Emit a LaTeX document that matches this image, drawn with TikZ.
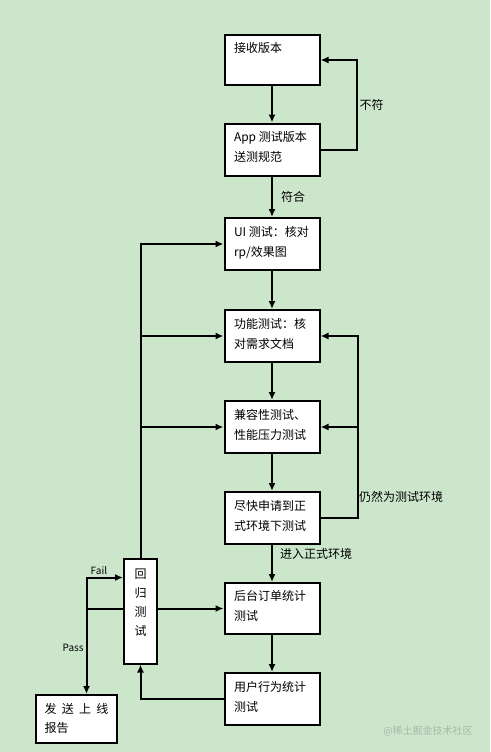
\documentclass[tikz,border=0pt]{standalone}
\usepackage{fontspec}
\setmainfont{Noto Sans CJK SC}
\usetikzlibrary{arrows.meta,positioning}
\definecolor{eyegreen}{RGB}{204,230,204}
\definecolor{markgray}{RGB}{168,184,168}
\tikzstyle{stepbox} = [draw, line width=2pt, fill=white, inner sep=0pt, minimum width=95pt, minimum height=52pt, font=\fontsize{12}{20}\selectfont]
\tikzstyle{arrow} = [line width=2pt, -{Latex[length=8pt,width=7pt]}]
\tikzstyle{lbl} = [font=\fontsize{12}{14}\selectfont, inner sep=2pt]
\tikzstyle{small} = [font=\fontsize{10}{12}\selectfont, inner sep=2pt]
\newcommand{\boxlines}[1]{\parbox[c][36pt][t]{76pt}{\raggedright #1}}

\begin{document}
\begin{tikzpicture}[x=1pt, y=-1pt]
% background
\fill[eyegreen] (0,0) rectangle (490,752);
\useasboundingbox (0,0) rectangle (490,752);

% main column
\node[stepbox, minimum height=50pt] (recv) at (272,60) {\boxlines{接收版本}};
\node[stepbox] (spec) at (272,149.5) {\boxlines{App~测试版本\\送测规范}};
\node[stepbox] (ui) at (272,244) {\boxlines{UI~测试：核对\\rp/效果图}};
\node[stepbox] (func) at (272,336) {\boxlines{功能测试：核\\对需求文档}};
\node[stepbox] (compat) at (272,427) {\boxlines{兼容性测试、\\性能压力测试}};
\node[stepbox] (apply) at (272,518) {\boxlines{尽快申请到正\\式环境下测试}};
\node[stepbox, minimum height=51pt] (order) at (272,608.5) {\boxlines{后台订单统计\\测试}};
\node[stepbox] (user) at (272,699) {\boxlines{用户行为统计\\测试}};

% regression and report
\node[stepbox, minimum width=33pt, minimum height=105pt] (regress) at (140.5,611)
  {\parbox[c][85pt][t]{14pt}{\centering\fontsize{12}{19}\selectfont 回\\归\\测\\试}};
\node[stepbox, minimum width=81pt, minimum height=48pt] (report) at (76.5,719)
  {\parbox[c][32pt][t]{64pt}{\fontsize{12}{19}\selectfont\makebox[64pt][s]{发\hfill 送\hfill 上\hfill 线}\\报告}};

% flow down
\draw[arrow] (recv) -- (spec);
\draw[arrow] (spec) -- node[lbl, right=6pt] (oklbl) {符合} (ui);
\draw[arrow] (ui) -- (func);
\draw[arrow] (func) -- (compat);
\draw[arrow] (compat) -- (apply);
\draw[arrow] (apply) -- node[lbl, right=5pt, pos=0.25] (prodlbl) {进入正式环境} (order);
\draw[arrow] (order) -- (user);

% spec check loop
\draw[arrow] (spec.east) -- ++(36,0) |- node[lbl, right, pos=0.25] (nolbl) {不符} (recv.east);

% test environment loop
\draw[arrow] (apply.east) -- ++(37,0) coordinate (envx) |- (func.east);
\draw[arrow] (envx |- compat.east) -- (compat.east);
\node[lbl, right] (envlbl) at (357,497) {仍然为测试环境};

% regression links
\draw[arrow] (regress.north) |- (ui.west);
\draw[arrow] (regress.north |- func.west) -- (func.west);
\draw[arrow] (regress.north |- compat.west) -- (compat.west);
\draw[arrow] (regress.east |- order.west) -- (order.west);
\draw[arrow] (user.west) -| (regress.south);

% fail / pass
\draw[line width=2pt] (regress.west |- order.west) -- ++(-36.5,0) coordinate (split);
\draw[arrow] (split) |- node[small, above, pos=0.67] (faillbl) {Fail} ([yshift=-20pt]regress.north west);
\draw[arrow] (split) -- node[small, left, pos=0.46] (passlbl) {Pass} (split |- report.north);

% watermark
\node[small, text=markgray] (mark) at (428,731) {@稀土掘金技术社区};
\end{tikzpicture}
\end{document}
